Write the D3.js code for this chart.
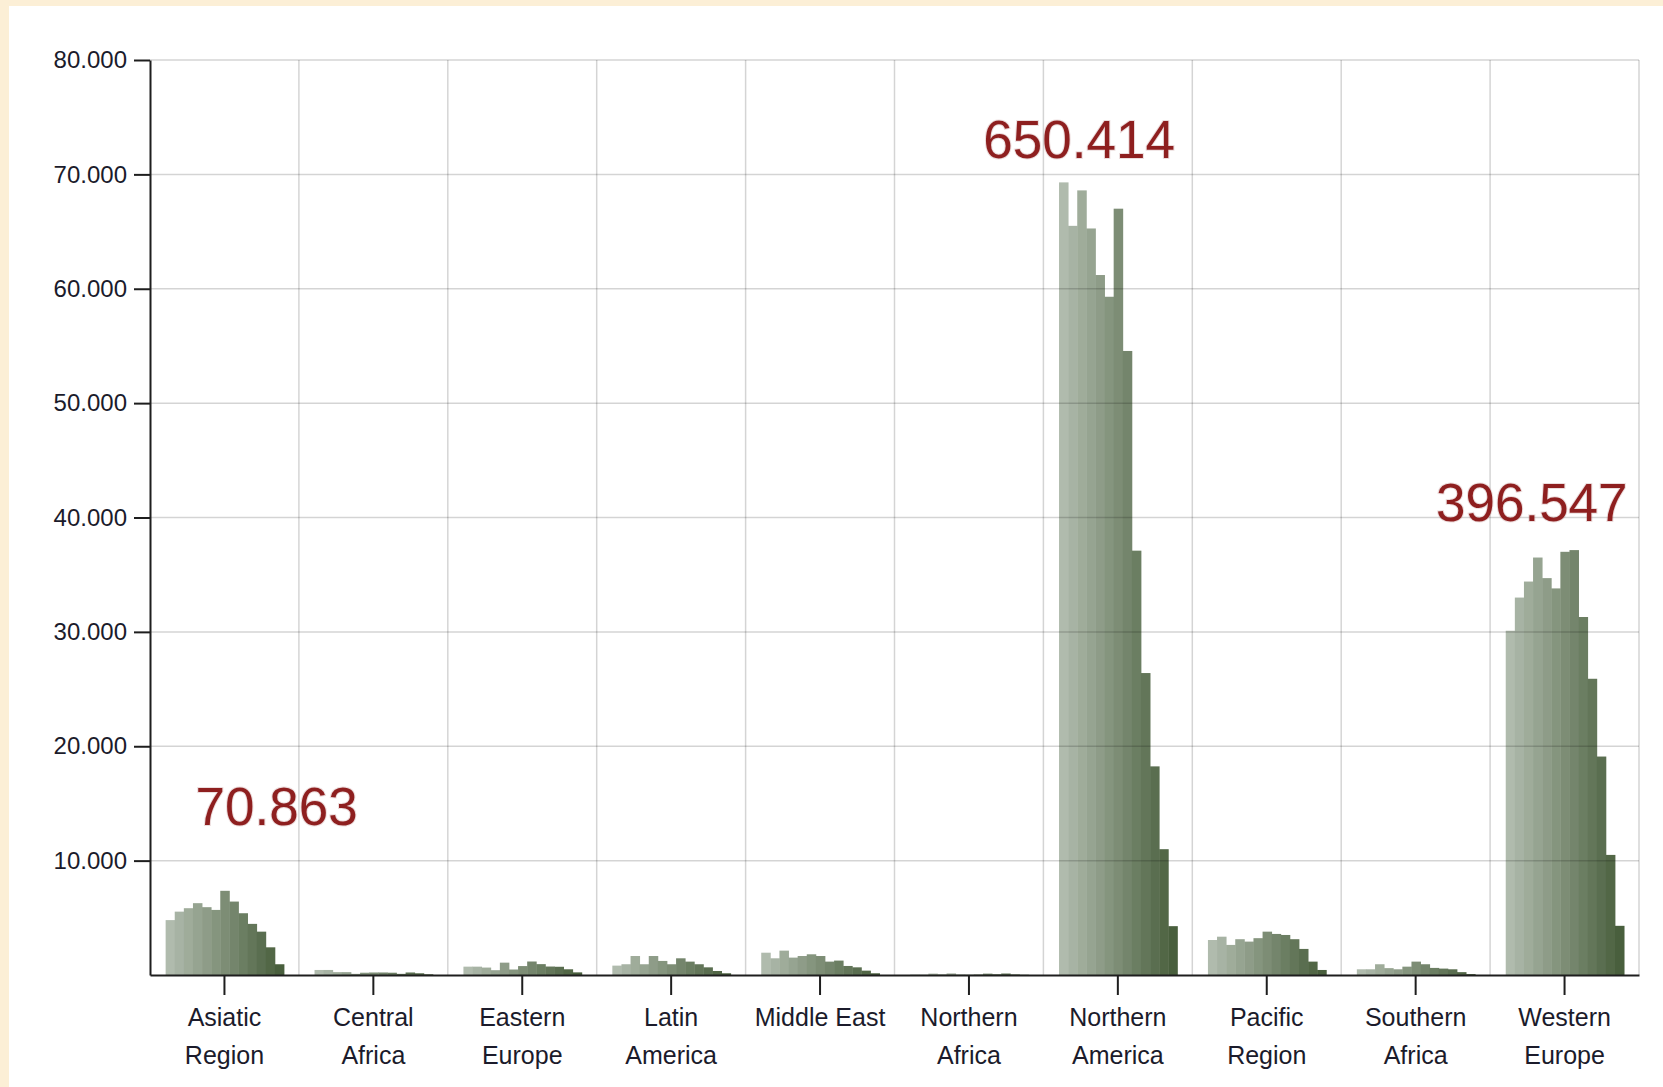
<!DOCTYPE html>
<html>
<head>
<meta charset="utf-8">
<script src="https://cdn.jsdelivr.net/npm/d3@7"></script>
<style>
  html, body { margin: 0; padding: 0; background: #fcefd6; }
  svg { display: block; }
  text { font-family: "Liberation Sans", Arial, sans-serif; }
</style>
</head>
<body>
<svg id="chart" width="1663" height="1087"></svg>
<script>
// ---------- data ----------
const regions = ["Asiatic Region","Central Africa","Eastern Europe","Latin America","Middle East",
                 "Northern Africa","Northern America","Pacific Region","Southern Africa","Western Europe"];
const regionTickLines = [["Asiatic","Region"],["Central","Africa"],["Eastern","Europe"],["Latin","America"],
                         ["Middle East"],["Northern","Africa"],["Northern","America"],["Pacific","Region"],
                         ["Southern","Africa"],["Western","Europe"]];
const asiaticRegion   = [4800,5540,5840,6280,5930,5690,7360,6420,5400,4470,3790,2420,940];
const centralAfrica   = [440,440,250,250,100,200,220,220,200,100,220,150,60];
const easternEurope   = [730,730,650,420,1080,480,780,1180,950,740,720,500,230];
const latinAmerica    = [820,940,1660,940,1660,1230,940,1460,1170,940,670,350,150];
const middleEast      = [1950,1460,2130,1520,1660,1810,1660,1170,1260,790,670,380,150];
const northernAfrica  = [40,30,120,60,130,40,30,50,120,70,130,50,20];
const northernAmerica = [69300,65500,68600,65270,61200,59300,67000,54560,37100,26400,18240,11000,4270];
const pacificRegion   = [3060,3350,2630,3130,2920,3220,3790,3590,3500,3130,2280,1170,440];
const southernAfrica  = [500,500,940,600,500,730,1170,940,620,560,500,250,80];
const westernEurope   = [30100,33000,34400,36500,34700,33800,37000,37150,31300,25900,19100,10500,4300];
const seriesByRegion  = [asiaticRegion,centralAfrica,easternEurope,latinAmerica,middleEast,
                         northernAfrica,northernAmerica,pacificRegion,southernAfrica,westernEurope];
const yTicks = [10000,20000,30000,40000,50000,60000,70000,80000];
const totalRegions = ["Asiatic Region","Northern America","Western Europe"];
const totalLabels  = ["70.863","650.414","396.547"];
const totalLabelAt = [13100, 71400, 39700];   // value level of the label baseline

// ---------- layout ----------
const svg = d3.select("#chart");
const W = 1663, H = 1087;
const plot = {left: 150, right: 1639, top: 60, bottom: 975};

svg.append("rect").attr("x", 9).attr("y", 6).attr("width", W - 9).attr("height", H - 6).attr("fill", "#ffffff");

const nSeries = asiaticRegion.length;
const x0 = d3.scaleBand().domain(regions).range([plot.left, plot.right]).paddingInner(0).paddingOuter(0);
const x1 = d3.scaleBand().domain(d3.range(nSeries))
  .range([x0.bandwidth() * 0.105, x0.bandwidth() * 0.9]).padding(0);
const y = d3.scaleLinear().domain([0, 80000]).range([plot.bottom, plot.top]);
const color = d3.scaleLinear().domain([0, nSeries - 1]).range(["#b0bbad", "#495f3d"]).interpolate(d3.interpolateRgb);

const loc = d3.formatLocale({decimal: ",", thousands: ".", grouping: [3], currency: ["", ""]});
const fmt = loc.format(",");

// ---------- bars ----------
const groups = svg.append("g").selectAll("g").data(regions).join("g")
  .attr("transform", d => `translate(${x0(d)},0)`);
groups.selectAll("rect").data((d, i) => seriesByRegion[i].map((v, j) => ({v, j})))
  .join("rect")
  .attr("x", d => x1(d.j))
  .attr("width", x1.bandwidth() + 0.4)
  .attr("y", d => y(d.v))
  .attr("height", d => y(0) - y(d.v))
  .attr("fill", d => color(d.j));

// ---------- grid (drawn over bars, translucent) ----------
const grid = svg.append("g").attr("stroke", "#000").attr("stroke-opacity", 0.17).attr("stroke-width", 1.5);
grid.selectAll("line.h").data(yTicks).join("line").attr("class", "h")
  .attr("x1", plot.left).attr("x2", plot.right)
  .attr("y1", d => y(d)).attr("y2", d => y(d));
grid.selectAll("line.v").data(regions.slice(1).map(r => x0(r)).concat([plot.right])).join("line").attr("class", "v")
  .attr("x1", d => d).attr("x2", d => d)
  .attr("y1", plot.top).attr("y2", plot.bottom);

// ---------- axes ----------
const yAxis = svg.append("g").attr("transform", `translate(${plot.left},0)`)
  .call(d3.axisLeft(y).tickValues(yTicks).tickFormat(fmt).tickSize(16).tickSizeOuter(0).tickPadding(7));
yAxis.select(".domain").attr("stroke", "#1e1e1e").attr("stroke-width", 2);
yAxis.selectAll(".tick line").attr("stroke", "#1e1e1e").attr("stroke-width", 2);
yAxis.selectAll(".tick text").attr("font-size", 24).attr("fill", "#1b1b2b")
  .attr("font-family", "'Liberation Sans', Arial, sans-serif");

const xAxis = svg.append("g").attr("transform", `translate(0,${y(0)})`)
  .call(d3.axisBottom(x0).tickSize(20).tickSizeOuter(0).tickPadding(13));
xAxis.select(".domain").attr("stroke", "#1e1e1e").attr("stroke-width", 2);
xAxis.selectAll(".tick line").attr("stroke", "#1e1e1e").attr("stroke-width", 2);
xAxis.selectAll(".tick text").attr("font-size", 25).attr("fill", "#1b1b2b")
  .attr("font-family", "'Liberation Sans', Arial, sans-serif")
  .each(function(d) {
    const t = d3.select(this);
    t.text(null);
    regionTickLines[regions.indexOf(d)].forEach((line, i) => {
      t.append("tspan").attr("x", 0).attr("dy", i === 0 ? "0.71em" : "1.52em").text(line);
    });
  });

// ---------- total labels ----------
const labelShift = [0.35, -0.26, -0.22];   // fraction of band width from band centre
svg.append("g").selectAll("text").data(totalLabels).join("text")
  .attr("x", (d, i) => x0(totalRegions[i]) + x0.bandwidth() * (0.5 + labelShift[i]))
  .attr("y", (d, i) => y(totalLabelAt[i]))
  .attr("text-anchor", "middle")
  .attr("font-size", 53)
  .attr("fill", "#8e1f1f")
  .attr("stroke", "rgba(180,120,120,0.25)")
  .attr("stroke-width", 2)
  .attr("paint-order", "stroke")
  .text(d => d);
</script>
</body>
</html>
